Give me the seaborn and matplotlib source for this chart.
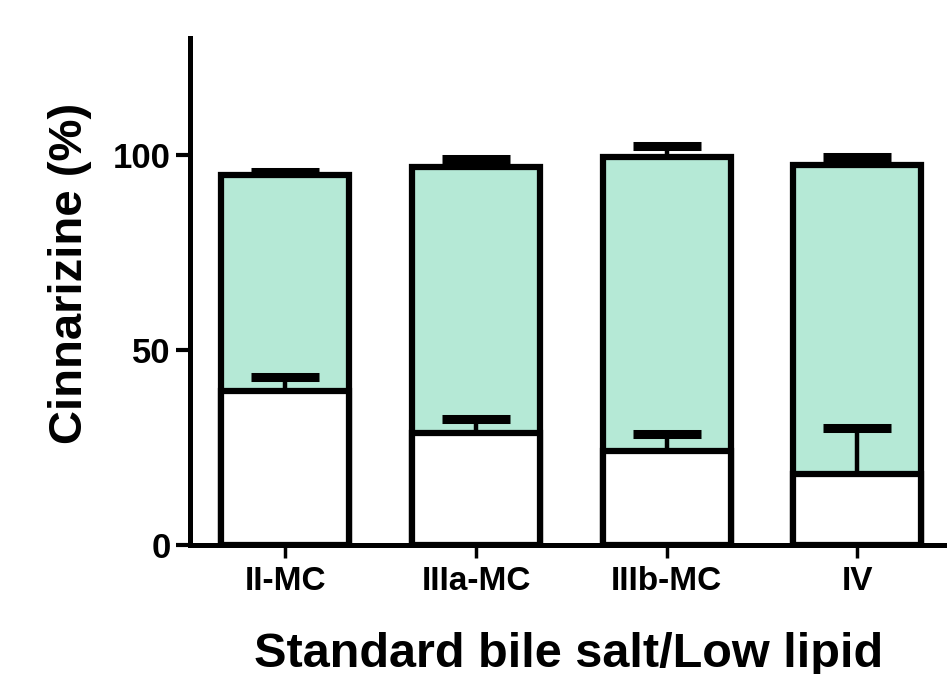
import numpy as np
import matplotlib
matplotlib.use("Agg")
import matplotlib.pyplot as plt
import seaborn as sns

categories = ["II-MC", "IIIa-MC", "IIIb-MC", "IV"]
total = [94.9, 96.9, 99.5, 97.4]
total_err = [0.7, 2.1, 2.8, 2.1]
lower = [39.5, 28.7, 24.1, 18.2]
lower_err = [3.6, 3.6, 4.4, 11.8]

sns.set_style("ticks", {"axes.edgecolor": "black", "text.color": "black",
                        "xtick.color": "black", "ytick.color": "black",
                        "axes.labelcolor": "black"})
plt.rcParams['font.family'] = ['Liberation Sans', 'DejaVu Sans']
plt.rcParams['font.weight'] = 'bold'

fig = plt.figure(figsize=(9.47, 6.74), dpi=100)
ax = fig.add_axes([0.2006, 0.1914, 0.7994, 0.7522])

teal = "#B5E9D6"
lw = 4.5

sns.barplot(x=categories, y=total, color=teal, edgecolor="black",
            linewidth=lw, width=0.67, saturation=1, ax=ax, zorder=2)
sns.barplot(x=categories, y=lower, color="white", edgecolor="black",
            linewidth=lw, width=0.67, saturation=1, ax=ax, zorder=3)

# one-sided (upper) error bars
pos = np.arange(len(categories))
for vals, errs in [(total, total_err), (lower, lower_err)]:
    eb = ax.errorbar(pos, vals, yerr=[np.zeros(len(vals)), errs], fmt="none",
                     ecolor="black", elinewidth=3.2, capsize=24.5,
                     capthick=6.5, zorder=4)
    eb[1][0].set_visible(False)

ax.set_xlim(-0.5, 3.47)
ax.set_ylim(0, 130)
ax.set_yticks([0, 50, 100])
sns.despine(ax=ax)
for s in ["left", "bottom"]:
    ax.spines[s].set_linewidth(3.6)
ax.tick_params(axis="y", length=10, width=3, labelsize=25, pad=4)
ax.tick_params(axis="x", length=9, width=2.5, labelsize=24, pad=6)
for t in ax.get_xticklabels() + ax.get_yticklabels():
    t.set_fontweight("bold")

ax.set_ylabel("Cinnarizine (%)", fontsize=34, fontweight="bold")
ax.yaxis.set_label_coords(-0.13, 0.535)
ax.set_xlabel("Standard bile salt/Low lipid", fontsize=35, fontweight="bold", labelpad=25)

fig.savefig("out.png", dpi=100)
